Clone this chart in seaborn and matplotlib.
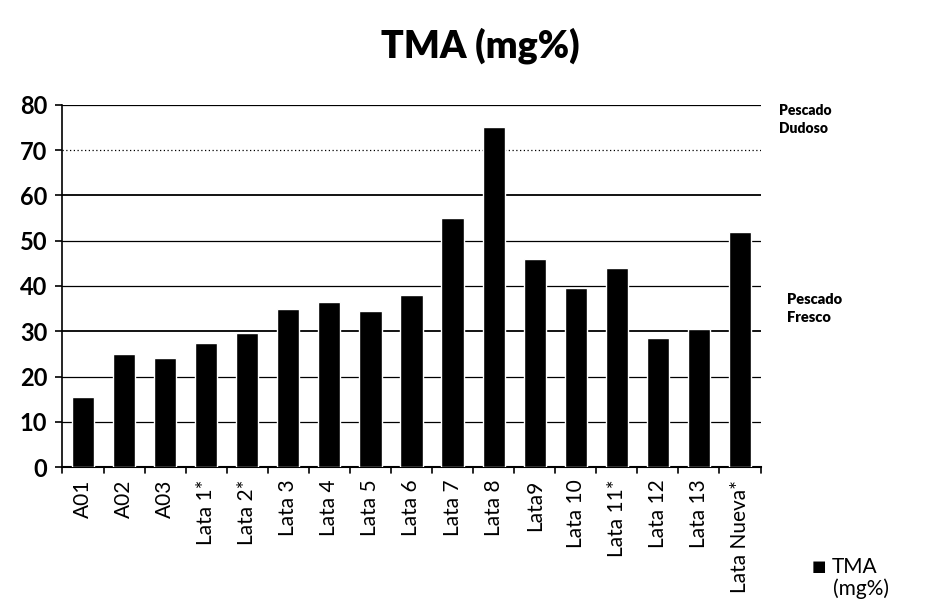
import pandas as pd
import matplotlib.pyplot as plt
import seaborn as sns

# data
muestras = ["A01", "A02", "A03", "Lata 1*", "Lata 2*", "Lata 3", "Lata 4", "Lata 5",
            "Lata 6", "Lata 7", "Lata 8", "Lata9", "Lata 10", "Lata 11*", "Lata 12",
            "Lata 13", "Lata Nueva*"]
tma = [15.5, 25, 24, 27.5, 29.5, 35, 36.5, 34.5, 38, 55, 75, 46, 39.5, 44, 28.5, 30.5, 52]
y_ticks = [0, 10, 20, 30, 40, 50, 60, 70, 80]

df = pd.DataFrame({"muestra": muestras, "tma": tma})

sns.set_style("white")
plt.rcParams['font.family'] = ['Lato', 'DejaVu Sans']
plt.rcParams['text.color'] = 'black'
plt.rcParams['xtick.color'] = 'black'
plt.rcParams['ytick.color'] = 'black'

fig = plt.figure(figsize=(9.32, 6.09), dpi=100)
ax = fig.add_axes([0.067, 0.233, 0.749, 0.595])

# gridlines
for t in y_ticks[1:]:
    lw = 1.3 if t in (30, 60) else 0.9
    ls = (0, (1, 2)) if t == 70 else "-"
    ax.axhline(t, color="black", lw=lw, ls=ls, zorder=0)

sns.barplot(data=df, x="muestra", y="tma", color="black", width=0.54,
            saturation=1, ax=ax, zorder=3)

ax.set_ylim(0, 80)
ax.set_xlim(-0.5, len(muestras) - 0.5)
ax.set_yticks(y_ticks)
ax.set_yticklabels([str(t) for t in y_ticks], fontsize=17, fontweight="bold")
ax.set_xticks(range(len(muestras)))
ax.set_xticklabels(muestras, rotation=90, fontsize=15)
ax.tick_params(axis="x", length=0, pad=9)
ax.tick_params(axis="y", length=5, direction="out", color="black", width=1.2, left=True, pad=6)
# boundary ticks between categories
for i in range(len(muestras) + 1):
    ax.plot([i - 0.5, i - 0.5], [0, -1.4], color="black", lw=1.2, clip_on=False)
ax.set_xlabel("")
ax.set_ylabel("")
for s in ["top", "right"]:
    ax.spines[s].set_visible(False)
ax.spines["left"].set_color("black")
ax.spines["bottom"].set_color("black")
ax.spines["left"].set_linewidth(1.2)
ax.spines["bottom"].set_linewidth(1.5)

fig.text(0.515, 0.925, "TMA (mg%)", ha="center", va="center", fontsize=27, fontweight="heavy")
fig.text(0.836, 0.803, "Pescado\nDudoso", ha="left", va="center", fontsize=10,
         fontweight="heavy", linespacing=1.45)
fig.text(0.844, 0.494, "Pescado\nFresco", ha="left", va="center", fontsize=10.5,
         fontweight="heavy", linespacing=1.45)

# legend, drawn by hand to put the key next to the first line
fig.text(0.871, 0.069, "\u25A0", ha="left", va="center", fontsize=11)
fig.text(0.892, 0.069, "TMA", ha="left", va="center", fontsize=15)
fig.text(0.894, 0.033, "(mg%)", ha="left", va="center", fontsize=15)

plt.savefig("out.png", dpi=100)
